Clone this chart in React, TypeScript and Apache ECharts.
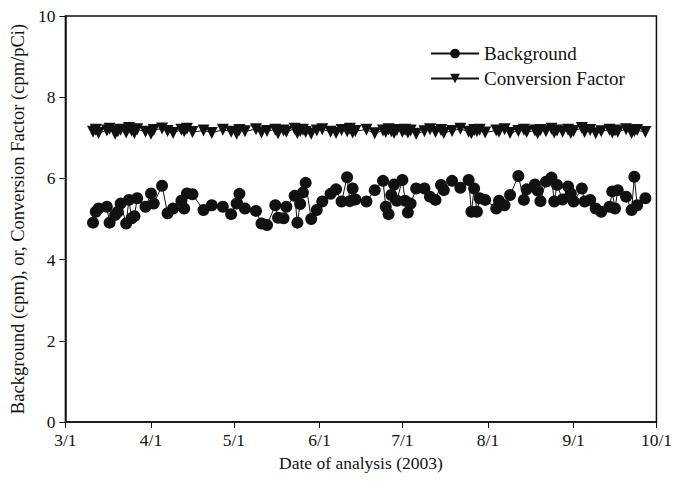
import React, { useEffect, useRef } from "react";
import * as echarts from "echarts";

const xTickLabels = ["3/1", "4/1", "5/1", "6/1", "7/1", "8/1", "9/1", "10/1"];
const yTicks = [0, 2, 4, 6, 8, 10];

const sampleDates = [
  "3/11", "3/12", "3/13", "3/16", "3/17", "3/19", "3/20", "3/21", "3/23", "3/24",
  "3/25", "3/26", "3/27", "3/30", "4/1", "4/2", "4/5", "4/7", "4/9", "4/12",
  "4/13", "4/14", "4/16", "4/20", "4/23", "4/27", "4/30", "5/2", "5/3", "5/5",
  "5/9", "5/11", "5/13", "5/16", "5/17", "5/19", "5/20", "5/23", "5/24", "5/25",
  "5/26", "5/27", "5/29", "5/31", "6/2", "6/5", "6/7", "6/9", "6/11", "6/12",
  "6/13", "6/14", "6/18", "6/21", "6/24", "6/25", "6/26", "6/27", "6/28", "6/29",
  "7/1", "7/2", "7/3", "7/4", "7/6", "7/9", "7/11", "7/13", "7/15", "7/16",
  "7/19", "7/22", "7/25", "7/26", "7/27", "7/28", "7/29", "7/31", "8/4", "8/5",
  "8/7", "8/9", "8/12", "8/14", "8/15", "8/18", "8/19", "8/20", "8/22", "8/24",
  "8/25", "8/26", "8/28", "8/30", "8/31", "9/1", "9/4", "9/5", "9/7", "9/9",
  "9/11", "9/14", "9/15", "9/16", "9/17", "9/20", "9/22", "9/23", "9/24", "9/27",
];

const background = [
  4.91, 5.18, 5.26, 5.3, 4.91, 5.1, 5.18, 5.38, 4.89, 5.47,
  5.02, 5.07, 5.51, 5.3, 5.63, 5.38, 5.82, 5.14, 5.26, 5.45,
  5.26, 5.63, 5.61, 5.22, 5.34, 5.3, 5.12, 5.38, 5.62, 5.26,
  5.2, 4.89, 4.85, 5.34, 5.03, 5.02, 5.3, 5.57, 4.91, 5.37,
  5.65, 5.89, 5.0, 5.22, 5.43, 5.62, 5.73, 5.43, 6.03, 5.44,
  5.75, 5.48, 5.43, 5.71, 5.94, 5.3, 5.12, 5.59, 5.85, 5.45,
  5.96, 5.45, 5.16, 5.38, 5.75, 5.75, 5.55, 5.47, 5.84, 5.71,
  5.94, 5.77, 5.96, 5.18, 5.75, 5.18, 5.51, 5.47, 5.26, 5.45,
  5.34, 5.59, 6.06, 5.47, 5.73, 5.85, 5.7, 5.44, 5.92, 6.02,
  5.43, 5.84, 5.48, 5.8, 5.63, 5.43, 5.75, 5.43, 5.47, 5.26,
  5.18, 5.3, 5.68, 5.26, 5.71, 5.55, 5.22, 6.04, 5.34, 5.51,
];

const conversionFactor = [
  7.15, 7.2, 7.12, 7.18, 7.22, 7.1, 7.16, 7.2, 7.13, 7.24,
  7.18, 7.12, 7.21, 7.15, 7.1, 7.19, 7.23, 7.17, 7.12, 7.2,
  7.16, 7.22, 7.14, 7.18, 7.12, 7.2, 7.15, 7.1, 7.19, 7.16,
  7.21, 7.13, 7.17, 7.2, 7.11, 7.18, 7.15, 7.22, 7.12, 7.17,
  7.2, 7.14, 7.1, 7.18, 7.21, 7.15, 7.12, 7.19, 7.16, 7.22,
  7.13, 7.17, 7.2, 7.11, 7.18, 7.14, 7.21, 7.16, 7.12, 7.19,
  7.15, 7.2, 7.13, 7.18, 7.1, 7.16, 7.21, 7.14, 7.19, 7.12,
  7.17, 7.22, 7.15, 7.11, 7.19, 7.16, 7.2, 7.13, 7.18, 7.15,
  7.21, 7.12, 7.17, 7.2, 7.14, 7.18, 7.11, 7.19, 7.16, 7.22,
  7.13, 7.18, 7.15, 7.2, 7.12, 7.17, 7.24, 7.14, 7.19, 7.11,
  7.16, 7.2, 7.13, 7.18, 7.15, 7.21, 7.12, 7.17, 7.19, 7.14,
];

const monthStartOffset: Record<number, number> = { 3: 0, 4: 31, 5: 61, 6: 92, 7: 122, 8: 153, 9: 184, 10: 214 };
const dayOffset = (md: string) => {
  const [m, d] = md.split("/").map(Number);
  return monthStartOffset[m] + d - 1;
};
const xTickValues = xTickLabels.map(dayOffset);

const FONT = "'Liberation Serif', 'Times New Roman', serif";
const INK = "#111";

export default function App() {
  const ref = useRef<HTMLDivElement>(null);
  useEffect(() => {
    if (!ref.current) return;
    const chart = echarts.init(ref.current, undefined, { renderer: "svg" });
    const labelFor = (v: number) => {
      const i = xTickValues.indexOf(v);
      return i >= 0 ? xTickLabels[i] : "";
    };
    chart.setOption({
      animation: false,
      backgroundColor: "#fff",
      textStyle: { fontFamily: FONT, color: INK },
      grid: {
        left: 65,
        right: 15,
        top: 16,
        bottom: 74,
        show: true,
        borderColor: INK,
        borderWidth: 1.5,
        backgroundColor: "transparent",
      },
      legend: {
        orient: "vertical",
        left: 425,
        top: 39,
        itemWidth: 48,
        itemHeight: 12,
        itemGap: 6,
        textStyle: { fontFamily: FONT, fontSize: 19, color: INK },
        data: ["Background", "Conversion Factor"],
      },
      xAxis: {
        type: "value",
        min: 0,
        max: 214,
        name: "Date of analysis (2003)",
        nameLocation: "middle",
        nameGap: 31,
        nameTextStyle: { fontFamily: FONT, fontSize: 17.5, color: INK },
        axisLine: { show: true, lineStyle: { color: INK, width: 1.5 } },
        axisTick: {
          show: true,
          inside: false,
          length: 6,
          customValues: xTickValues,
          lineStyle: { color: INK },
        },
        axisLabel: {
          customValues: xTickValues,
          formatter: (v: number) => labelFor(v),
          fontFamily: FONT,
          fontSize: 17.5,
          color: INK,
          margin: 9,
        },
        splitLine: { show: false },
      },
      yAxis: {
        type: "value",
        min: 0,
        max: 10,
        interval: 2,
        name: "Background (cpm), or, Conversion Factor (cpm/pCi)",
        nameLocation: "middle",
        nameGap: 33,
        nameRotate: 90,
        nameTextStyle: { fontFamily: FONT, fontSize: 18.5, color: INK },
        axisLine: { show: true, lineStyle: { color: INK, width: 1.5 } },
        axisTick: { show: true, inside: false, length: 6, lineStyle: { color: INK } },
        axisLabel: {
          fontFamily: FONT,
          fontSize: 17.5,
          color: INK,
          margin: 10,
          formatter: (v: number) => (yTicks.includes(v) ? String(v) : ""),
        },
        splitLine: { show: false },
      },
      series: [
        {
          name: "Background",
          type: "line",
          data: sampleDates.map((d, i) => [dayOffset(d), background[i]]),
          symbol: "circle",
          symbolSize: 12,
          itemStyle: { color: INK },
          lineStyle: { color: INK, width: 1 },
        },
        {
          name: "Conversion Factor",
          type: "line",
          data: sampleDates.map((d, i) => [dayOffset(d), conversionFactor[i]]),
          symbol: "triangle",
          symbolRotate: 180,
          symbolSize: 12,
          itemStyle: { color: INK },
          lineStyle: { color: INK, width: 1 },
        },
      ],
    });
    return () => chart.dispose();
  }, []);
  return (
    <div
      ref={ref}
      style={{ position: "fixed", left: 0, top: 0, width: 675, height: 496 }}
    />
  );
}
